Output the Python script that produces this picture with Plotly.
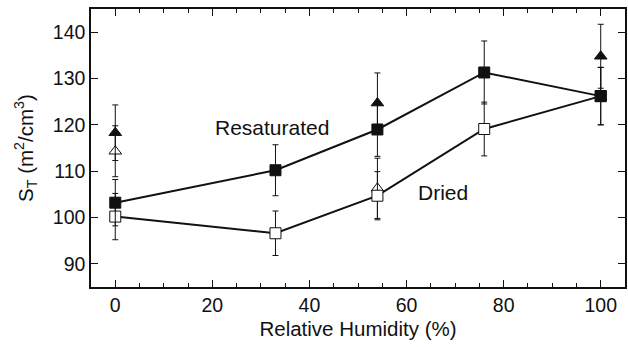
import plotly.graph_objects as go

rh = [0, 33, 54, 76, 100]
resat = [103.2, 110.2, 119.0, 131.3, 126.2]
resat_err = [5.0, 5.5, 5.8, 6.8, 6.2]
dried = [100.2, 96.6, 104.7, 119.1, 126.2]
dried_err = [5.0, 4.8, 5.2, 5.8, 6.2]
tri_x = [0, 54, 100]
tri_filled = [118.3, 124.7, 134.8]
tri_filled_err = [6.0, 6.5, 6.9]
tri_open_x = [0, 54]
tri_open = [114.3, 106.3]
tri_open_err = [5.5, 6.5]

font = "Liberation Sans, Arial, sans-serif"

def eb(vals):
    return dict(type="data", array=vals, visible=True, thickness=1, width=3, color="#111")

fig = go.Figure()
fig.add_trace(go.Scatter(x=tri_open_x, y=tri_open, mode="markers", error_y=eb(tri_open_err),
                         marker=dict(symbol="triangle-up", size=11, color="white", line=dict(color="#111", width=1))))
fig.add_trace(go.Scatter(x=tri_x, y=tri_filled, mode="markers", error_y=eb(tri_filled_err),
                         marker=dict(symbol="triangle-up", size=11, color="#111", line=dict(color="#111", width=1))))
fig.add_trace(go.Scatter(x=rh, y=dried, mode="lines+markers", error_y=eb(dried_err),
                         line=dict(color="#111", width=2),
                         marker=dict(symbol="square", size=11, color="white", line=dict(color="#111", width=1))))
fig.add_trace(go.Scatter(x=rh, y=resat, mode="lines+markers", error_y=eb(resat_err),
                         line=dict(color="#111", width=2),
                         marker=dict(symbol="square", size=11, color="#111", line=dict(color="#111", width=1))))

fig.add_annotation(x=32.3, y=119.4, text="Resaturated", showarrow=False,
                   font=dict(family=font, size=21, color="#111"))
fig.add_annotation(x=67.6, y=105.3, text="Dried", showarrow=False,
                   font=dict(family=font, size=21, color="#111"))

fig.update_layout(
    width=628, height=347,
    margin=dict(l=91, r=1, t=9, b=60),
    paper_bgcolor="white", plot_bgcolor="white",
    showlegend=False,
    font=dict(family=font, size=19.5, color="#111"),
)
fig.update_xaxes(range=[-5, 105], tickvals=[0, 20, 40, 60, 80, 100], ticks="inside", ticklen=7,
                 tickwidth=1, tickcolor="#111", showline=True, linecolor="#111", linewidth=1.5,
                 mirror="ticks", showgrid=False, zeroline=False,
                 minor=dict(dtick=5, ticks="inside", ticklen=4, tickcolor="#111", showgrid=False),
                 title=dict(text="Relative Humidity (%)", standoff=6, font=dict(size=20.5)),
                 tickfont=dict(size=19.5))
fig.update_yaxes(range=[85, 145], tickvals=[90, 100, 110, 120, 130, 140], ticks="inside", ticklen=7,
                 tickwidth=1, tickcolor="#111", showline=True, linecolor="#111", linewidth=1.5,
                 mirror="ticks", showgrid=False, zeroline=False,
                 title=dict(text="S<sub>T</sub> (m<sup>2</sup>/cm<sup>3</sup>)", standoff=14, font=dict(size=20.5)),
                 tickfont=dict(size=19.5))

fig.write_html("out.html")
